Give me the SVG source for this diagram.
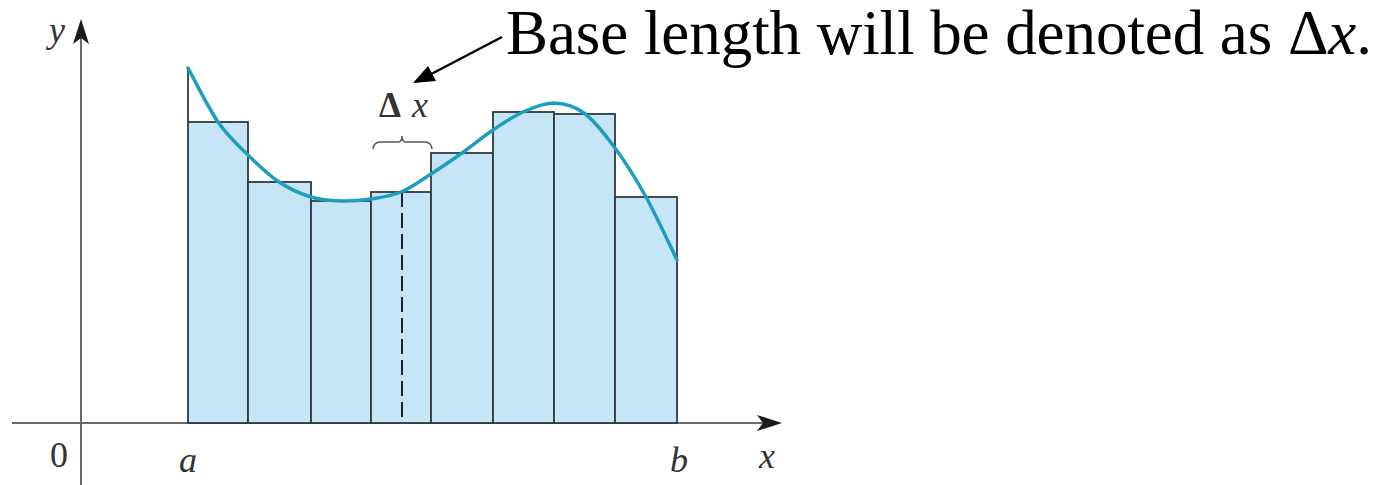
<svg xmlns="http://www.w3.org/2000/svg" width="1393" height="485" viewBox="0 0 1393 485">
<style>
.bar{fill:#c6e6f8;stroke:#2e3a40;stroke-width:1.8}
.axis{stroke:#6a6a6a;stroke-width:2;fill:none}
.head{fill:#1a1a1a}
.lbl{font-family:'Liberation Serif','Times New Roman',serif;font-size:36px;fill:#333;font-style:italic}
.num{font-family:'Liberation Serif','Times New Roman',serif;font-size:36px;fill:#333}
.curve{fill:none;stroke:#1e9dc0;stroke-width:3.5;stroke-linecap:round}
.note{font-family:'Liberation Serif','Times New Roman',serif;font-size:63px;fill:#000}
</style>
<rect width="1393" height="485" fill="#fff"/>
<g id="axes">
<line class="axis" x1="12" y1="423" x2="768" y2="423"/>
<line class="axis" x1="81" y1="485" x2="81" y2="34"/>
<path class="head" d="M782,423 L757,415 L763,423 L757,431 z"/>
<path class="head" d="M81,19 L73,44 L81,38 L89,44 z"/>
</g>
<g id="rectangles">
<rect class="bar" x="188" y="122" width="60" height="301"/>
<rect class="bar" x="248" y="182" width="63" height="241"/>
<rect class="bar" x="311" y="201" width="60" height="222"/>
<rect class="bar" x="371" y="192" width="60" height="231"/>
<rect class="bar" x="431" y="153" width="62" height="270"/>
<rect class="bar" x="493" y="112" width="61" height="311"/>
<rect class="bar" x="554" y="114" width="61" height="309"/>
<rect class="bar" x="615" y="197" width="62" height="226"/>
<line x1="188" y1="68" x2="188" y2="122" stroke="#2e3a40" stroke-width="1.8"/>
<line x1="402" y1="192" x2="402" y2="423" stroke="#1a2226" stroke-width="2" stroke-dasharray="15 6"/>
</g>
<g id="curve">
<path class="curve" d="M188,68 C193,77 208,107.5 218,122 C228,136.5 237.8,145 248,155 C258.2,165 268.5,175 279,182 C289.5,189 300.7,193.8 311,197 C321.3,200.2 331,200.7 341,201 C351,201.3 361,200.5 371,199 C381,197.5 391,196.2 401,192 C411,187.8 420.8,180.5 431,174 C441.2,167.5 451.7,160.3 462,153 C472.3,145.7 482.8,136.8 493,130 C503.2,123.2 513,116.5 523,112 C533,107.5 542.8,103.2 553,103 C563.2,103.2 573.7,105.5 584,113 C594.3,120.5 604.7,134 615,148 C625.3,162 635.7,178.3 646,197 C656.3,215.7 671.8,249.5 677,260"/>
</g>
<g id="axis-labels">
<text class="lbl" x="49" y="42">y</text>
<text class="num" x="50" y="467">0</text>
<text class="lbl" x="179" y="472">a</text>
<text class="lbl" x="670" y="472">b</text>
<text class="lbl" x="759" y="468">x</text>
</g>
<g id="delta-x-label">
<text class="num" style="font-size:35px;font-weight:bold" x="379" y="117">Δ</text>
<text class="lbl" style="font-size:36px" x="412" y="117">x</text>
<path d="M373,149 Q374,142 380,142 L398,142 Q402,142 402,136 Q402,142 406,142 L425,142 Q431,142 432,149" fill="none" stroke="#555" stroke-width="1.5"/>
</g>
<g id="annotation">
<text class="note" x="506" y="54" textLength="866" lengthAdjust="spacing">Base length will be denoted as Δ<tspan font-style="italic">x</tspan>.</text>
</g>
<g id="connectors">
<line x1="502" y1="37" x2="416" y2="82" stroke="#000" stroke-width="2.5"/>
<path d="M413,83 L428,66 L436,81 z" fill="#000"/>
</g>
</svg>
